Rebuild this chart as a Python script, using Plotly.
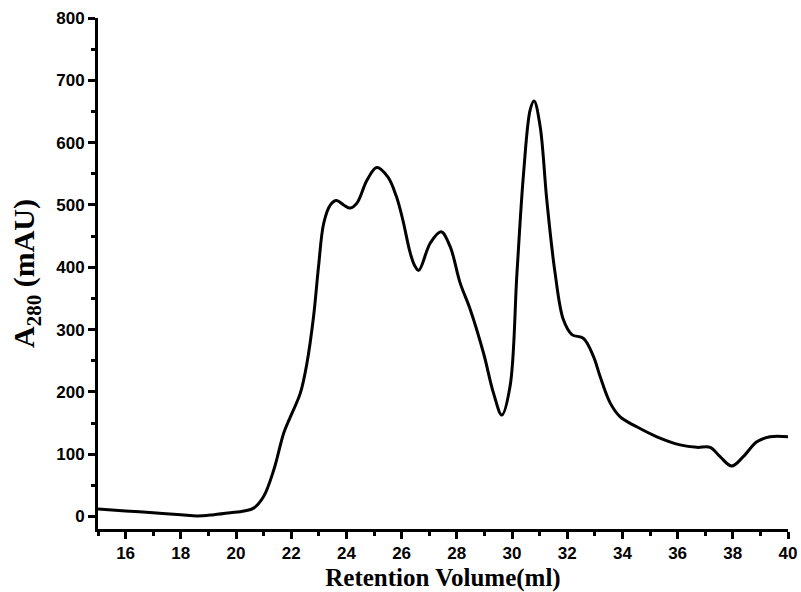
import plotly.graph_objects as go

# Size-exclusion chromatogram: absorbance at 280 nm vs. retention volume
retention_ml = [15, 16, 17, 18, 18.6, 19.2, 19.8, 20.3, 20.64, 21.0, 21.37, 21.73,
                21.97, 22.33, 22.57, 22.81, 22.99, 23.18, 23.42, 23.64, 23.9, 24.14,
                24.38, 24.75, 25.1, 25.5, 25.8, 26.05, 26.3, 26.47, 26.62, 27.04,
                27.43, 27.76, 28.12, 28.49, 28.97, 29.33, 29.63, 29.93, 30.18, 30.42,
                30.66, 30.8, 31.02, 31.26, 31.56, 31.86, 32.17, 32.59, 32.95, 33.19,
                33.56, 33.92, 34.52, 35.25, 36.09, 36.7, 37.18, 37.54, 37.96, 38.38,
                38.87, 39.35, 40]
a280_mau = [12, 9, 6, 3, 1, 3, 6, 9, 13.5, 32, 75, 134,
            160, 198, 246, 321, 401, 471, 500, 507, 500, 495,
            503, 540, 560, 545, 515, 475, 425, 403, 395, 439,
            457, 433, 375, 332, 262, 198, 163, 209, 391, 551,
            653, 667, 626, 508, 391, 316, 292, 286, 257, 225,
            182, 160, 144, 128, 115, 111, 111, 96, 81, 96,
            120, 128, 128]

x_ticks = list(range(16, 41, 2))
y_ticks = list(range(0, 801, 100))

tick_font = dict(family="Liberation Sans, Arial, sans-serif", size=17, color="black")
xtitle_font = dict(family="Liberation Serif, Times New Roman, serif", size=25, color="black")
ytitle_font = dict(family="Liberation Serif, Times New Roman, serif", size=30, color="black")

fig = go.Figure(
    go.Scatter(
        x=retention_ml,
        y=a280_mau,
        mode="lines",
        line=dict(color="black", width=3, shape="spline", smoothing=1.0),
        hoverinfo="skip",
    )
)

fig.update_layout(
    width=801,
    height=592,
    margin=dict(l=98, r=13, t=18, b=63),
    paper_bgcolor="white",
    plot_bgcolor="white",
    showlegend=False,
)

fig.update_xaxes(
    range=[15, 40],
    automargin=False,
    tickvals=x_ticks,
    ticktext=[f"<b>{v}</b>" for v in x_ticks],
    tickfont=tick_font,
    ticks="outside",
    ticklen=7,
    tickwidth=3,
    tickcolor="black",
    minor=dict(dtick=1, tick0=15, ticks="outside", ticklen=4, tickwidth=3, tickcolor="black"),
    showline=True,
    linecolor="black",
    linewidth=3,
    showgrid=False,
    zeroline=False,
    title=dict(text="<b>Retention Volume(ml)</b>", font=xtitle_font, standoff=7),
)

fig.update_yaxes(
    range=[-20, 800],
    automargin=False,
    tickvals=y_ticks,
    ticktext=[f"<b>{v}</b>" for v in y_ticks],
    tickfont=tick_font,
    ticks="outside",
    ticklen=7,
    tickwidth=3,
    tickcolor="black",
    minor=dict(dtick=50, tick0=0, ticks="outside", ticklen=4, tickwidth=3, tickcolor="black"),
    showline=True,
    linecolor="black",
    linewidth=3,
    showgrid=False,
    zeroline=False,
    title=dict(text="<b>A<sub>280</sub> (mAU)</b>", font=ytitle_font, standoff=13),
)

fig.write_html("out.html")
